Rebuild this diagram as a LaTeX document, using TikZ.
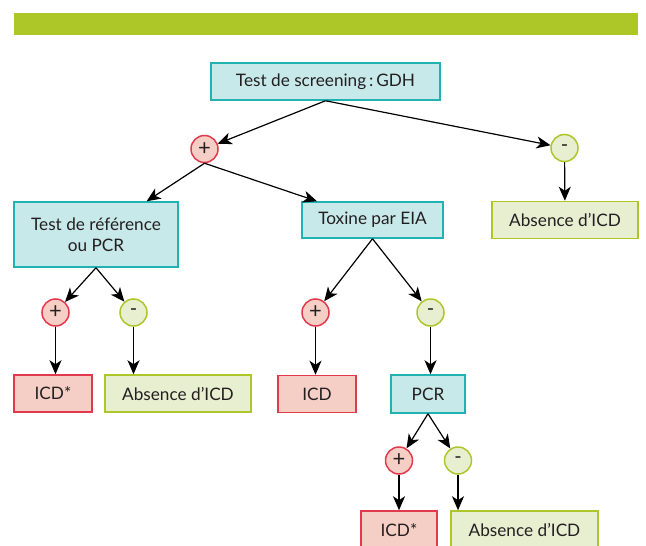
\documentclass[tikz,border=0pt]{standalone}
\usepackage{fontspec}
\setmainfont{Lato}
\usetikzlibrary{arrows.meta}
\definecolor{barGreen}{HTML}{ADC628}
\definecolor{tealFill}{HTML}{C8E9EA}
\definecolor{tealLine}{HTML}{22B2B2}
\definecolor{redFill}{HTML}{F5CFC5}
\definecolor{redLine}{HTML}{E03A4C}
\definecolor{greenFill}{HTML}{E8EED0}
\definecolor{greenLine}{HTML}{AEC62A}
\definecolor{txt}{HTML}{231F20}
\begin{document}
\begin{tikzpicture}[x=0.5pt,y=0.5pt]
            \tikzstyle{every node}+=[inner sep=0pt, font=\fontsize{8.6}{10.5}\selectfont, text=txt]
            \tikzstyle{testbox}=[draw=tealLine, fill=tealFill, line width=0.75pt, align=center]
            \tikzstyle{posbox}=[draw=redLine, fill=redFill, line width=0.75pt, minimum height=18.5pt]
            \tikzstyle{negbox}=[draw=greenLine, fill=greenFill, line width=0.75pt, minimum height=18.5pt]
            \tikzstyle{poscirc}=[circle, draw=redLine, fill=redFill, line width=0.75pt, minimum size=13.5pt, font=\fontsize{11}{11}\selectfont\addfontfeature{Weight=Light}]
            \tikzstyle{negcirc}=[circle, draw=greenLine, fill=greenFill, line width=0.75pt, minimum size=13.5pt, font=\fontsize{10}{10}\selectfont]
            \tikzstyle{arr}=[line width=0.6pt, -{Stealth[length=7pt,width=6pt,inset=2pt]}]
            \useasboundingbox (0,0) rectangle (646,-545);
            \fill [barGreen] (14,-13) rectangle (638,-35);
            % level 1
            \node [testbox, minimum width=114.5pt, minimum height=18.5pt] (gdh) at (325.5,-81.5) {Test de screening\,:\,GDH};
            \node [poscirc] (gdhpos) at (204.5,-149) {+};
            \node [negcirc] (gdhneg) at (564.5,-148) {-};
            \node [negbox, minimum width=73pt] (absA) at (565,-220) {Absence d’ICD};
            % level 2
            \node [testbox, minimum width=82pt, minimum height=32.5pt] (ref) at (96,-234.5) {Test de référence\\ou PCR};
            \node [testbox, minimum width=70.5pt, minimum height=18pt] (tox) at (372.5,-220) {Toxine par EIA};
            \node [poscirc] (refpos) at (55.5,-312.5) {+};
            \node [negcirc] (refneg) at (133.5,-312.5) {-};
            \node [poscirc] (toxpos) at (315.5,-312.5) {+};
            \node [negcirc] (toxneg) at (430.5,-312.5) {-};
            % level 3
            \node [posbox, minimum width=39pt] (icdA) at (53,-393.5) {ICD*};
            \node [negbox, minimum width=73pt] (absB) at (178,-393.5) {Absence d’ICD};
            \node [posbox, minimum width=39pt] (icdB) at (317,-394) {ICD};
            \node [testbox, minimum width=37pt, minimum height=19pt] (pcr) at (428,-394) {PCR};
            \node [poscirc] (pcrpos) at (399,-460.5) {+};
            \node [negcirc] (pcrneg) at (458,-460.5) {-};
            \node [posbox, minimum width=38pt, minimum height=19pt] (icdC) at (399,-530) {ICD*};
            \node [negbox, minimum width=73.5pt, minimum height=19pt] (absC) at (524.5,-530) {Absence d’ICD};
            % connectors
            \draw [arr] (gdh.south) -- (gdhpos);
            \draw [arr] (gdh.south) -- (gdhneg);
            \draw [arr] (gdhpos.south) -- (ref);
            \draw [arr] (gdhpos.south) -- (tox);
            \draw [arr] (gdhneg) -- (absA);
            \draw [arr] (ref.south) -- (refpos);
            \draw [arr] (ref.south) -- (refneg);
            \draw [arr] (refpos) -- (icdA.north -| refpos);
            \draw [arr] (refneg) -- (absB.north -| refneg);
            \draw [arr] (tox.south) -- (toxpos);
            \draw [arr] (tox.south) -- (toxneg);
            \draw [arr] (toxpos) -- (icdB.north -| toxpos);
            \draw [arr] (toxneg) -- (pcr.north -| toxneg);
            \draw [arr] (pcr.south) -- (pcrpos);
            \draw [arr] (pcr.south) -- (pcrneg);
            \draw [arr] (pcrpos) -- (icdC);
            \draw [arr] (pcrneg) -- (absC.north -| pcrneg);
        \end{tikzpicture}
\end{document}
